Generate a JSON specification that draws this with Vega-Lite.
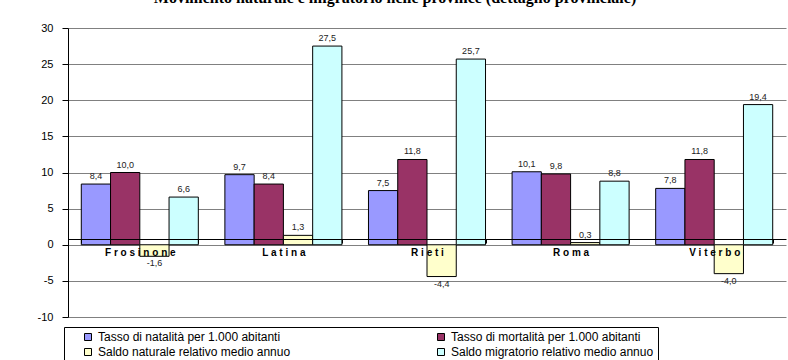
{
  "$schema": "https://vega.github.io/schema/vega-lite/v6.json",
  "width": 718,
  "height": 289,
  "autosize": {"type": "none"},
  "padding": {"left": 68, "top": 28, "right": 2, "bottom": 43},
  "background": "white",
  "title": {
    "text": "Movimento naturale e migratorio nelle province (dettaglio provinciale)",
    "font": "Liberation Serif",
    "fontSize": 16,
    "fontWeight": "bold",
    "color": "black",
    "anchor": "middle",
    "frame": "group",
    "offset": 16,
    "dx": -32
  },
  "config": {
    "locale": {"number": {"decimal": ",", "thousands": ".", "grouping": [3], "currency": ["", " €"], "minus": "-"}},
    "view": {"stroke": null},
    "font": "Liberation Sans"
  },
  "data": {
    "values": [
      {"prov": "Frosinone", "ind": "Tasso di natalità per 1.000 abitanti", "value": 8.4},
      {"prov": "Frosinone", "ind": "Tasso di mortalità per 1.000 abitanti", "value": 10.0},
      {"prov": "Frosinone", "ind": "Saldo naturale relativo medio annuo", "value": -1.6},
      {"prov": "Frosinone", "ind": "Saldo migratorio relativo medio annuo", "value": 6.6},
      {"prov": "Latina", "ind": "Tasso di natalità per 1.000 abitanti", "value": 9.7},
      {"prov": "Latina", "ind": "Tasso di mortalità per 1.000 abitanti", "value": 8.4},
      {"prov": "Latina", "ind": "Saldo naturale relativo medio annuo", "value": 1.3},
      {"prov": "Latina", "ind": "Saldo migratorio relativo medio annuo", "value": 27.5},
      {"prov": "Rieti", "ind": "Tasso di natalità per 1.000 abitanti", "value": 7.5},
      {"prov": "Rieti", "ind": "Tasso di mortalità per 1.000 abitanti", "value": 11.8},
      {"prov": "Rieti", "ind": "Saldo naturale relativo medio annuo", "value": -4.4},
      {"prov": "Rieti", "ind": "Saldo migratorio relativo medio annuo", "value": 25.7},
      {"prov": "Roma", "ind": "Tasso di natalità per 1.000 abitanti", "value": 10.1},
      {"prov": "Roma", "ind": "Tasso di mortalità per 1.000 abitanti", "value": 9.8},
      {"prov": "Roma", "ind": "Saldo naturale relativo medio annuo", "value": 0.3},
      {"prov": "Roma", "ind": "Saldo migratorio relativo medio annuo", "value": 8.8},
      {"prov": "Viterbo", "ind": "Tasso di natalità per 1.000 abitanti", "value": 7.8},
      {"prov": "Viterbo", "ind": "Tasso di mortalità per 1.000 abitanti", "value": 11.8},
      {"prov": "Viterbo", "ind": "Saldo naturale relativo medio annuo", "value": -4.0},
      {"prov": "Viterbo", "ind": "Saldo migratorio relativo medio annuo", "value": 19.4}
    ]
  },
  "encoding": {
    "x": {
      "field": "prov",
      "type": "nominal",
      "sort": null,
      "scale": {"paddingInner": 0.185, "paddingOuter": 0.0925},
      "axis": {
        "title": null,
        "orient": "bottom",
        "offset": -78,
        "zindex": 1,
        "labelAngle": 0,
        "labelFont": "Liberation Sans",
        "labelFontSize": 10,
        "labelFontWeight": "bold",
        "labelColor": "black",
        "labelPadding": 4,
        "labelExpr": "join(split(datum.label, ''), ' ')",
        "domainColor": "black",
        "domainWidth": 1,
        "tickColor": "black",
        "tickSize": 4,
        "tickBand": "extent",
        "grid": false
      }
    },
    "xOffset": {
      "field": "ind",
      "type": "nominal",
      "sort": ["Tasso di natalità per 1.000 abitanti", "Tasso di mortalità per 1.000 abitanti", "Saldo naturale relativo medio annuo", "Saldo migratorio relativo medio annuo"],
      "scale": {"paddingInner": 0, "paddingOuter": 0}
    },
    "y": {
      "field": "value",
      "type": "quantitative",
      "scale": {"domain": [-10, 30], "nice": false, "zero": false},
      "axis": {
        "title": null,
        "values": [-10, -5, 0, 5, 10, 15, 20, 25, 30],
        "labelFont": "Liberation Sans",
        "labelFontSize": 11,
        "labelColor": "black",
        "labelPadding": 9,
        "tickSize": 6,
        "tickColor": "black",
        "domainColor": "black",
        "grid": true,
        "gridColor": "#808080",
        "gridWidth": 1
      }
    }
  },
  "layer": [
    {
      "mark": {"type": "bar", "stroke": "black", "strokeWidth": 1},
      "encoding": {
        "color": {
          "field": "ind",
          "type": "nominal",
          "scale": {
            "domain": ["Tasso di natalità per 1.000 abitanti", "Saldo naturale relativo medio annuo", "Tasso di mortalità per 1.000 abitanti", "Saldo migratorio relativo medio annuo"],
            "range": ["#9999FF", "#FFFFCC", "#993366", "#CCFFFF"]
          },
          "legend": {
            "title": null,
            "orient": "none",
            "legendX": -4,
            "legendY": 299,
            "columns": 2,
            "columnPadding": 130,
            "padding": 4,
            "symbolOffset": 14,
            "symbolType": "square",
            "symbolSize": 49,
            "symbolStrokeColor": "black",
            "symbolStrokeWidth": 1,
            "labelFont": "Liberation Sans",
            "labelFontSize": 12,
            "labelColor": "black",
            "labelLimit": 300,
            "rowPadding": 3,
            "strokeColor": "black",
            "fillColor": "white"
          }
        }
      }
    },
    {
      "transform": [{"filter": "datum.value >= 0"}],
      "mark": {"type": "text", "baseline": "bottom", "dy": -3, "fontSize": 9, "color": "#222222", "font": "Liberation Sans"},
      "encoding": {"text": {"field": "value", "type": "quantitative", "format": ".1f"}}
    },
    {
      "transform": [{"filter": "datum.value < 0"}],
      "mark": {"type": "text", "baseline": "top", "dy": 3, "fontSize": 9, "color": "#222222", "font": "Liberation Sans"},
      "encoding": {"text": {"field": "value", "type": "quantitative", "format": ".1f"}}
    }
  ]
}
